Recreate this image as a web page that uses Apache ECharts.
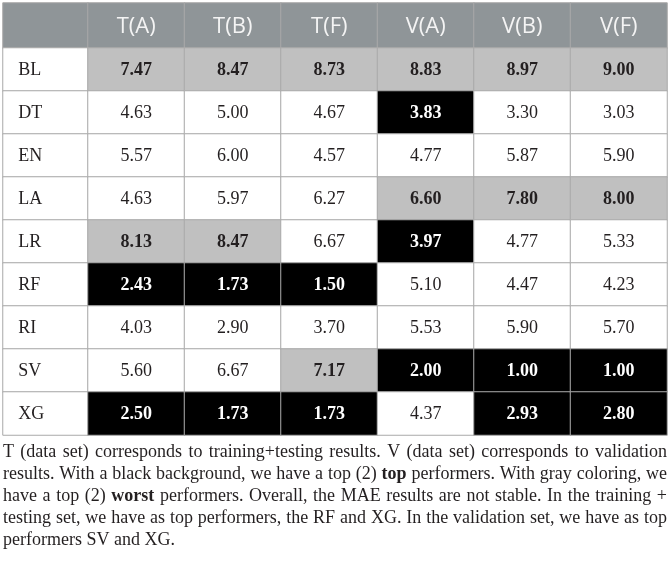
<!DOCTYPE html>
<html>
<head>
<meta charset="utf-8">
<script src="https://cdn.jsdelivr.net/npm/echarts@6/dist/echarts.min.js"></script>
<style>
html, body { margin: 0; padding: 0; background: #fff; }
#table { width: 670px; height: 564px; }
</style>
</head>
<body>
<div id="table"></div>
<script>
// 列名 / 模型名
var columns = ['T(A)', 'T(B)', 'T(F)', 'V(A)', 'V(B)', 'V(F)'];
var models = ['BL', 'DT', 'EN', 'LA', 'LR', 'RF', 'RI', 'SV', 'XG'];

// MAE values per column
var tA = [7.47, 4.63, 5.57, 4.63, 8.13, 2.43, 4.03, 5.60, 2.50];
var tB = [8.47, 5.00, 6.00, 5.97, 8.47, 1.73, 2.90, 6.67, 1.73];
var tF = [8.73, 4.67, 4.57, 6.27, 6.67, 1.50, 3.70, 7.17, 1.73];
var vA = [8.83, 3.83, 4.77, 6.60, 3.97, 5.10, 5.53, 2.00, 4.37];
var vB = [8.97, 3.30, 5.87, 7.80, 4.77, 4.47, 5.90, 1.00, 2.93];
var vF = [9.00, 3.03, 5.90, 8.00, 5.33, 4.23, 5.70, 1.00, 2.80];

// w = gray (worst), t = black (top), - = plain ; one string per model row
var marks = ['wwwwww', '---t--', '------', '---www', 'ww-t--', 'ttt---', '------', '--wttt', 'ttt-tt'];

// caption lines, *word* = bold
var caption = [
    'T (data set) corresponds to training+testing results. V (data set) corresponds to validation',
    'results. With a black background, we have a top (2) *top* performers. With gray coloring, we',
    'have a top (2) *worst* performers. Overall, the MAE results are not stable. In the training +',
    'testing set, we have as top performers, the RF and XG. In the validation set, we have as top',
    'performers SV and XG.'
];

var values = [tA, tB, tF, vA, vB, vF];
var serif = '"Liberation Serif", "DejaVu Serif", serif';
var border = '#a9a9a9';

var bodyData = [];
for (var c = 0; c < columns.length; c++) {
    for (var r = 0; r < models.length; r++) {
        var m = marks[r].charAt(c);
        var bg = m === 't' ? '#000000' : (m === 'w' ? '#c0c0c0' : '#ffffff');
        bodyData.push({
            value: [c, r, values[c][r]],
            itemStyle: { color: bg },
            label: {
                color: m === 't' ? '#ffffff' : '#231f20',
                fontWeight: m === '-' ? 'normal' : 'bold'
            }
        });
    }
}

var headData = columns.map(function (name, i) {
    return { name: name, value: [i, 0, 0] };
});
var nameData = models.map(function (name, i) {
    return { name: name, value: [0, i, 0] };
});

function cat(grid, data, inverse) {
    return { gridIndex: grid, type: 'category', data: data, inverse: !!inverse, show: false };
}

// justified caption, one text element per word
var capSize = 18;
var capLeft = 3, capWidth = 664, capTop = 452.5, capLine = 21.9;
var ctx = document.createElement('canvas').getContext('2d');
function capFont(bold) {
    return (bold ? 'bold ' : '') + capSize + 'px ' + serif;
}
var captionWords = [];
caption.forEach(function (line, i) {
    var words = line.split(' ').map(function (w) {
        var bold = w.charAt(0) === '*';
        var t = bold ? w.replace(/\*/g, '') : w;
        ctx.font = capFont(bold);
        return { text: t, bold: bold, w: ctx.measureText(t).width };
    });
    var total = words.reduce(function (s, w) { return s + w.w; }, 0);
    ctx.font = capFont(false);
    var gap = ctx.measureText(' ').width;
    if (i < caption.length - 1 && words.length > 1) {
        gap = (capWidth - total) / (words.length - 1);
    }
    var x = capLeft;
    words.forEach(function (w) {
        captionWords.push({
            type: 'text', x: x, y: capTop + i * capLine, silent: true,
            style: {
                text: w.text, font: capFont(w.bold), fill: '#231f20',
                align: 'left', verticalAlign: 'middle'
            }
        });
        x += w.w + gap;
    });
});

var myChart = echarts.init(document.getElementById('table'));
var option = {
    animation: false,
    grid: [
        { left: 3, top: 3, width: 85, height: 45 },
        { left: 88, top: 3, width: 579, height: 45 },
        { left: 3, top: 48, width: 85, height: 387 },
        { left: 88, top: 48, width: 579, height: 387 }
    ],
    xAxis: [cat(0, ['']), cat(1, columns), cat(2, ['']), cat(3, columns)],
    yAxis: [cat(0, ['']), cat(1, ['']), cat(2, models, true), cat(3, models, true)],
    series: [
        {
            type: 'heatmap', xAxisIndex: 0, yAxisIndex: 0,
            data: [[0, 0, 0]],
            itemStyle: { color: '#8f9598', borderColor: border, borderWidth: 1 },
            emphasis: { disabled: true }
        },
        {
            type: 'heatmap', xAxisIndex: 1, yAxisIndex: 1,
            data: headData,
            itemStyle: { color: '#8f9598', borderColor: border, borderWidth: 1 },
            label: {
                show: true, formatter: '{b}', color: '#f4f4f4', offset: [0, 1],
                fontFamily: '"Open Sans", sans-serif', fontSize: 22
            },
            emphasis: { disabled: true }
        },
        {
            type: 'heatmap', xAxisIndex: 2, yAxisIndex: 2,
            data: nameData,
            itemStyle: { color: '#ffffff', borderColor: border, borderWidth: 1 },
            label: {
                show: true, formatter: '{b}', position: 'insideLeft', distance: 16,
                offset: [0, 1], color: '#231f20', fontFamily: serif, fontSize: 18
            },
            emphasis: { disabled: true }
        },
        {
            type: 'heatmap', xAxisIndex: 3, yAxisIndex: 3,
            data: bodyData,
            itemStyle: { borderColor: border, borderWidth: 1 },
            label: {
                show: true, fontFamily: serif, fontSize: 18, offset: [0, 1],
                formatter: function (p) { return p.value[2].toFixed(2); }
            },
            emphasis: { disabled: true }
        }
    ],
    graphic: captionWords
};

myChart.setOption(option);
</script>
</body>
</html>
